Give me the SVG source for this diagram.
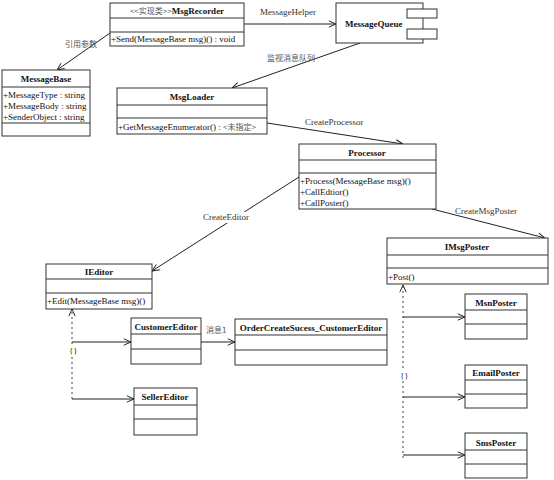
<svg xmlns="http://www.w3.org/2000/svg" width="554" height="480" viewBox="0 0 554 480">
<style>
text{font-family:"Liberation Serif","Noto Sans CJK SC",serif;font-size:9px;fill:#111}
.t{font-weight:bold;text-anchor:middle}
.box{fill:#fff;stroke:#333;stroke-width:1}
.div{stroke:#333;stroke-width:1}
.c{fill:none;stroke:#222;stroke-width:1}
.d{fill:none;stroke:#444;stroke-width:1;stroke-dasharray:2 3}
.lbl{fill:#333}
.cjk{font-family:"Noto Sans CJK SC","Liberation Serif",sans-serif;font-size:8px;fill:#555}
</style>
<defs>
<marker id="a" viewBox="0 0 10 10" refX="10" refY="5" markerWidth="8" markerHeight="8" markerUnits="userSpaceOnUse" orient="auto">
<path d="M1,1 L10,5 L1,9" fill="none" stroke="#222" stroke-width="1.2"/>
</marker>
</defs>
<rect width="554" height="480" fill="#fff"/>

<g id="connectors">
<path class="c" d="M244,24 L336,24" marker-end="url(#a)"/>
<text x="260" y="15" class="lbl">MessageHelper</text>
<path class="c" d="M110,33 L57,70" marker-end="url(#a)"/>
<text x="65" y="47" class="cjk">引用参数</text>
<path class="c" d="M360,43 L232,88" marker-end="url(#a)"/>
<text x="267" y="61" class="cjk">监视消息队列</text>
<path class="c" d="M267,123 L403,144" marker-end="url(#a)"/>
<text x="305" y="125" class="lbl">CreateProcessor</text>
<path class="c" d="M299,177 L152,271" marker-end="url(#a)"/>
<rect x="202" y="212" width="50" height="11" fill="#fff"/>
<text x="203" y="220" class="lbl">CreateEditor</text>
<path class="c" d="M432,209 L545,238" marker-end="url(#a)"/>
<text x="455" y="214" class="lbl">CreateMsgPoster</text>
<path class="d" d="M72,399 L72,311"/>
<path class="c" d="M72,310 L72,309" marker-end="url(#a)"/>
<path class="c" d="M72,342 L131,342" marker-end="url(#a)"/>
<path class="c" d="M72,399 L134,399" marker-end="url(#a)"/>
<rect x="68" y="346" width="8" height="10" fill="#fff"/>
<text x="69" y="354" class="lbl">{}</text>
<path class="c" d="M201,342 L235,342" marker-end="url(#a)"/>
<text x="206" y="333" class="cjk">消息1</text>
<path class="d" d="M403,458 L403,287"/>
<path class="c" d="M403,286 L403,285" marker-end="url(#a)"/>
<path class="c" d="M403,317 L465,317" marker-end="url(#a)"/>
<path class="c" d="M403,397 L465,397" marker-end="url(#a)"/>
<path class="c" d="M403,455 L465,455" marker-end="url(#a)"/>
<rect x="399" y="371" width="8" height="10" fill="#fff"/>
<text x="400" y="379" class="lbl">{}</text>
</g>

<g id="MsgRecorder">
<rect class="box" x="110" y="3" width="134" height="43"/>
<line class="div" x1="110" y1="18" x2="244" y2="18"/>
<line class="div" x1="110" y1="32" x2="244" y2="32"/>
<text x="177" y="14" text-anchor="middle"><tspan class="cjk" font-weight="normal">&lt;&lt;实现类&gt;&gt;</tspan><tspan font-weight="bold">MsgRecorder</tspan></text>
<text x="111" y="42">+Send(MessageBase msg)() : void</text>
</g>

<g id="MessageQueue">
<rect class="box" x="336" y="3" width="87" height="40"/>
<rect class="box" x="407" y="9" width="30" height="9"/>
<rect class="box" x="407" y="29" width="30" height="10"/>
<text x="345" y="27" font-weight="bold">MessageQueue</text>
</g>

<g id="MessageBase">
<rect class="box" x="2" y="70" width="88" height="66"/>
<line class="div" x1="2" y1="87" x2="90" y2="87"/>
<line class="div" x1="2" y1="123" x2="90" y2="123"/>
<text x="46" y="82" class="t">MessageBase</text>
<text x="3" y="98">+MessageType : string</text>
<text x="3" y="109">+MessageBody : string</text>
<text x="3" y="120">+SenderObject : string</text>
</g>

<g id="MsgLoader">
<rect class="box" x="117" y="88" width="150" height="46"/>
<line class="div" x1="117" y1="105" x2="267" y2="105"/>
<line class="div" x1="117" y1="118" x2="267" y2="118"/>
<text x="192" y="100" class="t">MsgLoader</text>
<text x="118" y="130">+GetMessageEnumerator() : <tspan class="cjk">&lt;未指定&gt;</tspan></text>
</g>

<g id="Processor">
<rect class="box" x="299" y="144" width="137" height="65"/>
<line class="div" x1="299" y1="160" x2="436" y2="160"/>
<line class="div" x1="299" y1="173" x2="436" y2="173"/>
<text x="367" y="156" class="t">Processor</text>
<text x="300" y="184">+Process(MessageBase msg)()</text>
<text x="300" y="195">+CallEdtior()</text>
<text x="300" y="206">+CallPoster()</text>
</g>

<g id="IMsgPoster">
<rect class="box" x="387" y="238" width="161" height="46"/>
<line class="div" x1="387" y1="255" x2="548" y2="255"/>
<line class="div" x1="387" y1="268" x2="548" y2="268"/>
<text x="467" y="250" class="t">IMsgPoster</text>
<text x="388" y="280">+Post()</text>
</g>

<g id="IEditor">
<rect class="box" x="46" y="264" width="106" height="45"/>
<line class="div" x1="46" y1="279" x2="152" y2="279"/>
<line class="div" x1="46" y1="293" x2="152" y2="293"/>
<text x="99" y="275" class="t">IEditor</text>
<text x="47" y="304">+Edit(MessageBase msg)()</text>
</g>

<g id="CustomerEditor">
<rect class="box" x="131" y="318" width="70" height="46"/>
<line class="div" x1="131" y1="334" x2="201" y2="334"/>
<line class="div" x1="131" y1="349" x2="201" y2="349"/>
<text x="166" y="330" class="t">CustomerEditor</text>
</g>

<g id="OrderCreateSucess_CustomerEditor">
<rect class="box" x="235" y="319" width="152" height="46"/>
<line class="div" x1="235" y1="335" x2="387" y2="335"/>
<line class="div" x1="235" y1="350" x2="387" y2="350"/>
<text x="311" y="331" class="t">OrderCreateSucess_CustomerEditor</text>
</g>

<g id="SellerEditor">
<rect class="box" x="134" y="388" width="63" height="47"/>
<line class="div" x1="134" y1="405" x2="197" y2="405"/>
<line class="div" x1="134" y1="419" x2="197" y2="419"/>
<text x="165" y="400" class="t">SellerEditor</text>
</g>

<g id="MsnPoster">
<rect class="box" x="465" y="294" width="62" height="45"/>
<line class="div" x1="465" y1="310" x2="527" y2="310"/>
<line class="div" x1="465" y1="324" x2="527" y2="324"/>
<text x="496" y="306" class="t">MsnPoster</text>
</g>

<g id="EmailPoster">
<rect class="box" x="465" y="365" width="62" height="43"/>
<line class="div" x1="465" y1="380" x2="527" y2="380"/>
<line class="div" x1="465" y1="394" x2="527" y2="394"/>
<text x="496" y="376" class="t">EmailPoster</text>
</g>

<g id="SmsPoster">
<rect class="box" x="465" y="433" width="62" height="45"/>
<line class="div" x1="465" y1="450" x2="527" y2="450"/>
<line class="div" x1="465" y1="464" x2="527" y2="464"/>
<text x="496" y="446" class="t">SmsPoster</text>
</g>
</svg>
